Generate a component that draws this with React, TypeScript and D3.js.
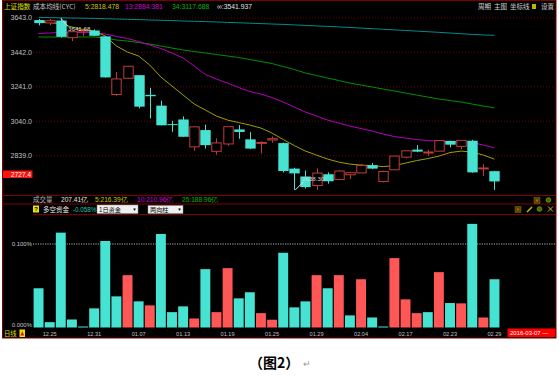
import React from 'react';
import * as d3 from 'd3';

const dates = ['12.24','12.25','12.28','12.29','12.30','12.31','01.04','01.05','01.06','01.07','01.08','01.11','01.12','01.13','01.14','01.15','01.18','01.19','01.20','01.21','01.22','01.25','01.26','01.27','01.28','01.29','02.01','02.02','02.03','02.04','02.05','02.15','02.16','02.17','02.18','02.19','02.22','02.23','02.24','02.25','02.26','02.29'];
const opens =  [3631,3614,3628,3528,3566,3570,3536,3196,3291,3309,3194,3131,3023,3050,2890,2988,2864,2907,2992,2934,2912,2930,2912,2763,2717,2664,2730,2699,2727,2738,2783,2688,2756,2830,2874,2855,2865,2925,2893,2926,2762,2748];
const highs =  [3637,3638,3641.68,3566,3573,3576,3538,3328,3362,3309,3235,3160,3042,3068,3011,3019,2940,3008,3017,2976,2923,2951,2915,2768,2752,2765,2741,2754,2744,2790,2796,2751,2838,2868,2900,2873,2928,2926,2930,2931,2789,2750];
const lows =   [3600,3601,3528,3508,3538,3538,3295,3189,3288,3115,3056,3016,2978,2949,2867,2880,2845,2896,2937,2877,2851,2915,2741,2638.3,2647,2639,2675,2699,2702,2736,2761,2682,2756,2823,2859,2838,2865,2887,2875,2739,2719,2639];
const closes = [3613,3627,3533,3563,3572,3539,3296,3287,3361,3125,3186,3016,3022,2949,3007,2900,2913,3008,2977,2880,2916,2938,2749,2735,2655,2737,2689,2749,2739,2781,2763,2746,2836,2867,2862,2860,2927,2903,2928,2741,2767,2688];

const cyc5 = [3619.6,3616.7,3607.9,3590.4,3575.8,3567.0,3537.8,3479.3,3444.2,3420.8,3368.2,3298.0,3245.4,3192.8,3140.2,3105.1,3070.0,3046.6,3032.0,3017.4,2999.8,2970.6,2933.0,2897.5,2865.4,2842.0,2818.5,2801.0,2789.3,2783.5,2780.6,2774.7,2780.6,2795.2,2809.8,2821.5,2836.1,2856.6,2865.4,2859.5,2842.0,2818.5];
const cyc13 = [3552.4,3555.3,3558.2,3558.2,3558.2,3558.2,3549.4,3534.8,3523.1,3505.6,3485.1,3464.7,3438.4,3409.2,3362.3,3312.6,3286.3,3262.9,3236.6,3213.2,3198.6,3178.1,3151.9,3122.6,3093.4,3070.0,3046.6,3029.1,3011.6,2997.0,2982.3,2964.8,2950.2,2941.4,2932.6,2926.8,2923.8,2920.9,2920.9,2915.1,2900.4,2884.4];
const cyc34 = [3531.9,3531.9,3531.9,3531.9,3531.9,3531.9,3526.1,3514.4,3508.5,3499.7,3491.0,3479.3,3467.6,3455.9,3447.1,3438.4,3429.6,3420.8,3412.0,3400.3,3388.6,3376.9,3359.4,3341.9,3321.4,3306.8,3292.2,3277.6,3262.9,3251.3,3239.6,3227.9,3216.2,3204.5,3192.8,3181.1,3169.4,3160.6,3151.9,3140.2,3128.5,3117.7];
const cycInf = [3646.5,3645.3,3644.2,3643.0,3641.8,3640.7,3638.9,3637.2,3635.4,3633.6,3631.3,3629.6,3627.8,3625.5,3623.7,3622.0,3619.6,3617.3,3615.0,3612.6,3610.3,3607.9,3605.6,3602.7,3599.8,3596.8,3593.9,3591.0,3587.5,3584.0,3580.5,3577.0,3573.5,3570.0,3566.4,3562.9,3559.4,3555.3,3551.2,3547.1,3543.6,3541.9];

const flowValues = [0.047,0.0064,0.1136,0.0096,0.0012,0.0229,0.1036,0.0373,0.0627,0.0313,0.0265,0.112,0.0184,0.0253,0.0108,0.0699,0.0184,0.0711,0.0349,0.0422,0.0172,0.0093,0.0895,0.0241,0.0313,0.0627,0.047,0.0627,0.0145,0.0578,0.012,0.0012,0.0831,0.0337,0.0172,0.0184,0.0663,0.0293,0.0289,0.1241,0.012,0.0578];
const flowSide = ['c','c','c','c','c','c','c','c','r','c','r','c','c','c','r','c','r','r','c','c','r','r','c','c','c','r','c','r','c','r','c','c','r','r','r','c','r','c','r','c','r','c'];

const priceTicks = [3643.0, 3442.0, 3241.0, 3040.0, 2839.0];
const flowTicks = [0.1, 0];
const axisDateLabels = ['12.25','12.31','01.07','01.13','01.19','01.25','01.29','02.04','02.17','02.23','02.29'];

const CYAN = '#46e3d3';
const RED_C = '#c23a3a';
const RED_B = '#ff5656';
const BORDER = '#7c0000';
const NUM = 'Liberation Sans, Arial, sans-serif';
const CJK = '"Noto Sans CJK SC", sans-serif';

export default function App() {
  const x = d3.scaleBand<string>().domain(dates).range([33, 500.04]).padding(0);
  const bw = x.bandwidth();
  const cx = (d: string) => (x(d) as number) + bw / 2;
  const y = d3.scaleLinear().domain([2839, 3643]).range([155.6, 18]);
  const yf = d3.scaleLinear().domain([0, 0.1]).range([327.5, 244]);

  const mkLine = (vals: number[]) =>
    d3.line<number>().x((_, i) => cx(dates[i])).y(v => y(v)).curve(d3.curveLinear)(vals) || '';

  const cw = 9.4;

  return (
    <svg width={559} height={380} style={{ position: 'absolute', left: 0, top: 0, background: '#fff' }}>
      <rect x={0} y={0} width={559} height={380} fill="#fff" />
      <rect x={2.5} y={0.5} width={553.5} height={337.5} fill="#000" stroke={BORDER} strokeWidth={1} />

      {/* title row */}
      <text x={4} y={9} fontFamily={CJK} fontSize={6.6} fill="#e0e000">上证指数</text>
      <text x={33} y={9} fontFamily={CJK} fontSize={6.6} fill="#c8c8c8">成本均线(CYC)</text>
      <text x={85} y={9} fontFamily={NUM} fontSize={6.8} fill="#c8c800">5:2818.478</text>
      <text x={125} y={9} fontFamily={NUM} fontSize={6.8} fill="#d000d0">13:2884.381</text>
      <text x={172} y={9} fontFamily={NUM} fontSize={6.8} fill="#00b400">34:3117.688</text>
      <text x={217} y={9} fontFamily={NUM} fontSize={6.8} fill="#e0e0e0">∞:3541.937</text>

      <text x={478} y={9} fontFamily={CJK} fontSize={6.5} fill="#d0d0d0">周期</text>
      <text x={494} y={9} fontFamily={CJK} fontSize={6.5} fill="#d0d0d0">主图</text>
      <text x={510} y={9} fontFamily={CJK} fontSize={6.5} fill="#d0d0d0">坐标线</text>
      <rect x={532} y={4} width={4} height={5} fill="#b8b800" />
      <text x={541} y={9} fontFamily={CJK} fontSize={6.5} fill="#d0d0d0">设置</text>

      {/* price grid */}
      {priceTicks.map(t => (
        <g key={t}>
          <line x1={33} x2={555} y1={y(t)} y2={y(t)} stroke="#6e0000" strokeDasharray="1,2" />
          <text x={32} y={y(t) + 2.4} textAnchor="end" fontFamily={NUM} fontSize={7} fill="#c0c0c0">{t.toFixed(1)}</text>
        </g>
      ))}

      {/* cost lines */}
      <path d={mkLine(cycInf)} fill="none" stroke="#008b8b" strokeWidth={1} />
      <path d={mkLine(cyc34)} fill="none" stroke="#009000" strokeWidth={1} />
      <path d={mkLine(cyc13)} fill="none" stroke="#b800b8" strokeWidth={1} />
      <path d={mkLine(cyc5)} fill="none" stroke="#a0a000" strokeWidth={1} />

      {/* candles */}
      {dates.map((d, i) => {
        const o = opens[i], c = closes[i], h = highs[i], l = lows[i];
        const xc = Math.round(cx(d)) + 0.5;
        const top = y(Math.max(o, c)), bot = y(Math.min(o, c));
        const up = c >= o;
        if (up) {
          const bh = Math.max(bot - top, 1);
          return (
            <g key={d}>
              <line x1={xc} x2={xc} y1={y(h)} y2={top} stroke={RED_C} />
              <line x1={xc} x2={xc} y1={top + bh} y2={y(l)} stroke={RED_C} />
              <rect x={xc - cw / 2} y={top} width={cw} height={bh} fill="#000" stroke={RED_C} strokeWidth={1} />
            </g>
          );
        }
        return (
          <g key={d}>
            <line x1={xc} x2={xc} y1={y(h)} y2={y(l)} stroke={CYAN} />
            <rect x={xc - cw / 2 - 0.5} y={top} width={cw + 1} height={Math.max(bot - top, 1)} fill={CYAN} />
          </g>
        );
      })}

      {/* extreme labels */}
      <line x1={cx('12.28')} y1={y(3641.68)} x2={cx('12.28') + 7} y2={y(3641.68) + 8} stroke="#e0e0e0" />
      <text x={68} y={31} fontFamily={NUM} fontSize={6.2} fill="#d8d8d8">3641.68</text>
      <line x1={cx('01.27') + 1} y1={y(2638.3)} x2={cx('01.27') + 9} y2={y(2638.3) - 8} stroke="#e0e0e0" />
      <text x={302} y={181} fontFamily={NUM} fontSize={6.2} fill="#d8d8d8">2638.30</text>

      {/* current price tag */}
      <rect x={3} y={170.5} width={29.5} height={7.5} fill="#ff1010" />
      <text x={31} y={176.6} textAnchor="end" fontFamily={NUM} fontSize={6.5} fill="#fff">2727.4</text>

      {/* panel separators */}
      <line x1={2.5} x2={556} y1={195.5} y2={195.5} stroke={BORDER} />
      <line x1={2.5} x2={556} y1={204} y2={204} stroke={BORDER} />
      <line x1={33} x2={556} y1={214.5} y2={214.5} stroke={BORDER} />

      {/* volume row */}
      <text x={33} y={202.3} fontFamily={CJK} fontSize={6.5} fill="#b8b8b8">成交量</text>
      <text x={61} y={202.3} fontFamily={NUM} fontSize={6.6} fill="#e0e0e0">207.41亿</text>
      <text x={95} y={202.3} fontFamily={NUM} fontSize={6.6} fill="#c8c800">5:216.39亿</text>
      <text x={137} y={202.3} fontFamily={NUM} fontSize={6.6} fill="#d000d0">10:210.96亿</text>
      <text x={182} y={202.3} fontFamily={NUM} fontSize={6.6} fill="#00b400">25:188.96亿</text>
      <rect x={534} y={197.5} width={6} height={6} fill="#504800" stroke="#807000" strokeWidth={0.5} />
      <rect x={536} y={199.5} width={2} height={2} fill="#e04040" />
      <circle cx={548.5} cy={200} r={2.3} fill="#3a6a00" stroke="#90b000" strokeWidth={0.7} />

      {/* flow header row */}
      <rect x={33} y={205.5} width={6} height={7} fill="#e8e000" />
      <text x={36} y={211.3} textAnchor="middle" fontFamily={NUM} fontSize={6} fontWeight="bold" fill="#000">?</text>
      <text x={43} y={211.5} fontFamily={CJK} fontSize={6.5} fill="#e8e8e8">多空资金</text>
      <text x={73} y={211.5} fontFamily={NUM} fontSize={6.3} fill="#20c0b0">-0.058%</text>
      <rect x={97} y={205} width={41} height={8.5} fill="#f0f0f0" stroke="#909090" strokeWidth={0.5} />
      <text x={99} y={211.6} fontFamily={CJK} fontSize={6.2} fill="#000">1日资金</text>
      <text x={134.5} y={211.2} textAnchor="middle" fontFamily={NUM} fontSize={4.5} fill="#000">▼</text>
      <rect x={148} y={205.5} width={35} height={8} fill="#f0f0f0" stroke="#909090" strokeWidth={0.5} />
      <text x={150} y={211.6} fontFamily={CJK} fontSize={6.2} fill="#000">两向柱</text>
      <text x={179.5} y={211.2} textAnchor="middle" fontFamily={NUM} fontSize={4.5} fill="#000">▼</text>
      <rect x={515} y={206.5} width={6} height={6} fill="#504800" stroke="#807000" strokeWidth={0.5} />
      <rect x={517} y={208.5} width={2} height={2} fill="#e04040" />
      <line x1={527} y1={212} x2={532} y2={207} stroke="#c8c000" strokeWidth={1.5} />
      <circle cx={539.5} cy={209} r={2.3} fill="#3a6a00" stroke="#90b000" strokeWidth={0.7} />
      <path d="M548,206.5 L553,211.5 M553,206.5 L548,211.5" stroke="#d8c800" strokeWidth={1} />

      {/* flow panel */}
      {flowTicks.map(t => (
        <text key={t} x={32} y={t === 0 ? 327.3 : yf(t) + 2.2} textAnchor="end" fontFamily={NUM} fontSize={6} fill="#c0c0c0">{t.toFixed(3) + '%'}</text>
      ))}
      <line x1={33} x2={555} y1={yf(0.1)} y2={yf(0.1)} stroke="#b0b0b0" strokeDasharray="1.2,1.2" />
      {dates.map((d, i) => (
        <rect key={d} x={(x(d) as number) + 0.6} y={yf(flowValues[i])} width={bw - 1.2} height={yf(0) - yf(flowValues[i])}
          fill={flowSide[i] === 'r' ? RED_B : CYAN} />
      ))}

      {/* date axis */}
      <text x={4} y={336} fontFamily={CJK} fontSize={6.3} fill="#e0e000">日线</text>
      <rect x={19.5} y={329.5} width={5.5} height={7.5} fill="#f0e000" />
      <path d="M22.25,331 L24.2,335.5 L20.3,335.5 Z" fill="#d02000" />
      {axisDateLabels.map(d => (
        <text key={d} x={cx(d)} y={335.5} textAnchor="middle" fontFamily={NUM} fontSize={5.6} fill="#c0c0c0">{d}</text>
      ))}
      <rect x={507.5} y={328.5} width={48} height={8.5} fill="#ff0000" />
      <text x={510} y={335.3} fontFamily={NUM} fontSize={6} fill="#fff">2016-03-07 —</text>

      {/* caption */}
      <text x={249} y={367.5} fontFamily={CJK} fontSize={14} fontWeight="bold" fill="#000">（图2）</text>
      <text x={303} y={366.5} fontFamily={CJK} fontSize={9} fill="#999">↵</text>
    </svg>
  );
}
